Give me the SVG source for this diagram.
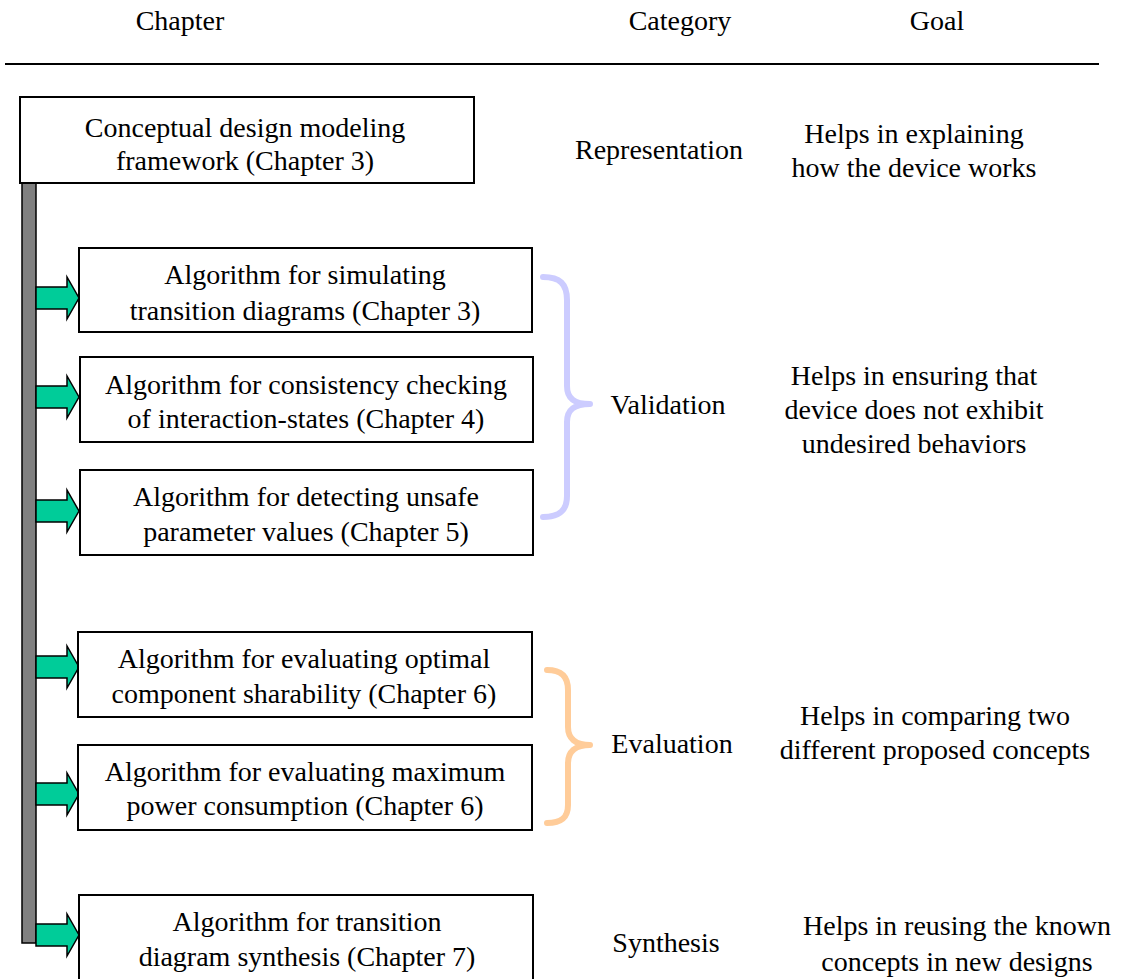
<svg xmlns="http://www.w3.org/2000/svg" width="1121" height="979" viewBox="0 0 1121 979">
  <style>
    text { font-family: "Liberation Serif", "Times New Roman", serif; font-size: 28px; fill: #000; text-anchor: middle; }
    .box { fill: #fff; stroke: #000; stroke-width: 2; }
    .bar { fill: #808080; stroke: #000; stroke-width: 1.5; }
    .arrow { fill: #00CC99; stroke: #000; stroke-width: 1.5; stroke-linejoin: miter; }
    .brace { fill: none; stroke-width: 6; stroke-linecap: round; stroke-linejoin: round; }
  </style>
  <defs>
    <!-- block arrow pointing right, tip at origin x=43 -->
    <polygon id="blockArrow" points="0,-11 31,-11 31,-21 43,0 31,21 31,11 0,11"/>
  </defs>

  <rect width="1121" height="979" fill="#fff"/>

  <!-- column headings -->
  <g id="headings">
    <text x="180" y="30">Chapter</text>
    <text x="680" y="30">Category</text>
    <text x="937" y="30">Goal</text>
    <line x1="5" y1="64" x2="1099" y2="64" stroke="#000" stroke-width="2"/>
  </g>

  <!-- connectors: spine and block arrows -->
  <g id="connectors">
    <rect class="bar" x="22" y="178" width="14" height="765"/>
    <use href="#blockArrow" class="arrow" x="36" y="298"/>
    <use href="#blockArrow" class="arrow" x="36" y="397"/>
    <use href="#blockArrow" class="arrow" x="36" y="511"/>
    <use href="#blockArrow" class="arrow" x="36" y="667"/>
    <use href="#blockArrow" class="arrow" x="36" y="794"/>
    <use href="#blockArrow" class="arrow" x="36" y="935"/>
  </g>

  <g id="framework">
    <rect class="box" x="20" y="97" width="454" height="86"/>
    <text x="245" y="137">Conceptual design modeling</text>
    <text x="245" y="170">framework (Chapter 3)</text>
  </g>

  <g id="simulate">
    <rect class="box" x="79" y="248" width="453" height="84"/>
    <text x="305" y="284">Algorithm for simulating</text>
    <text x="305" y="320">transition diagrams (Chapter 3)</text>
  </g>

  <g id="consistency">
    <rect class="box" x="80" y="357" width="453" height="85"/>
    <text x="306" y="394">Algorithm for consistency checking</text>
    <text x="306" y="428">of interaction-states (Chapter 4)</text>
  </g>

  <g id="unsafe">
    <rect class="box" x="80" y="470" width="453" height="85"/>
    <text x="306" y="506">Algorithm for detecting unsafe</text>
    <text x="306" y="541">parameter values (Chapter 5)</text>
  </g>

  <g id="sharability">
    <rect class="box" x="78" y="632" width="454" height="85"/>
    <text x="304" y="668">Algorithm for evaluating optimal</text>
    <text x="304" y="703">component sharability (Chapter 6)</text>
  </g>

  <g id="power">
    <rect class="box" x="78" y="745" width="454" height="85"/>
    <text x="305" y="781">Algorithm for evaluating maximum</text>
    <text x="305" y="815">power consumption (Chapter 6)</text>
  </g>

  <g id="synthesis">
    <rect class="box" x="79" y="895" width="454" height="100"/>
    <text x="307" y="931">Algorithm for transition</text>
    <text x="307" y="966">diagram synthesis (Chapter 7)</text>
  </g>

  <!-- category braces -->
  <g id="braces">
    <path class="brace" stroke="#CCCCFF" d="M543,277 C560,277 567,284 567,300 L567,386 C567,398 574,404 590,404 C574,404 567,410 567,422 L567,496 C567,510 560,517 543,517"/>
    <path class="brace" stroke="#FFCC99" d="M547,670 C561,670 568,676 568,690 L568,727 C568,738 575,745 590,745 C575,745 568,752 568,763 L568,805 C568,818 561,823 547,823"/>
  </g>

  <g id="categories">
    <text x="659" y="159">Representation</text>
    <text x="668" y="414">Validation</text>
    <text x="672" y="753">Evaluation</text>
    <text x="666" y="952">Synthesis</text>
  </g>

  <g id="goals">
    <text x="914" y="143">Helps in explaining</text>
    <text x="914" y="177">how the device works</text>
    <text x="914" y="385">Helps in ensuring that</text>
    <text x="914" y="419">device does not exhibit</text>
    <text x="914" y="453">undesired behaviors</text>
    <text x="935" y="725">Helps in comparing two</text>
    <text x="935" y="759">different proposed concepts</text>
    <text x="957" y="935">Helps in reusing the known</text>
    <text x="957" y="971">concepts in new designs</text>
  </g>
</svg>
